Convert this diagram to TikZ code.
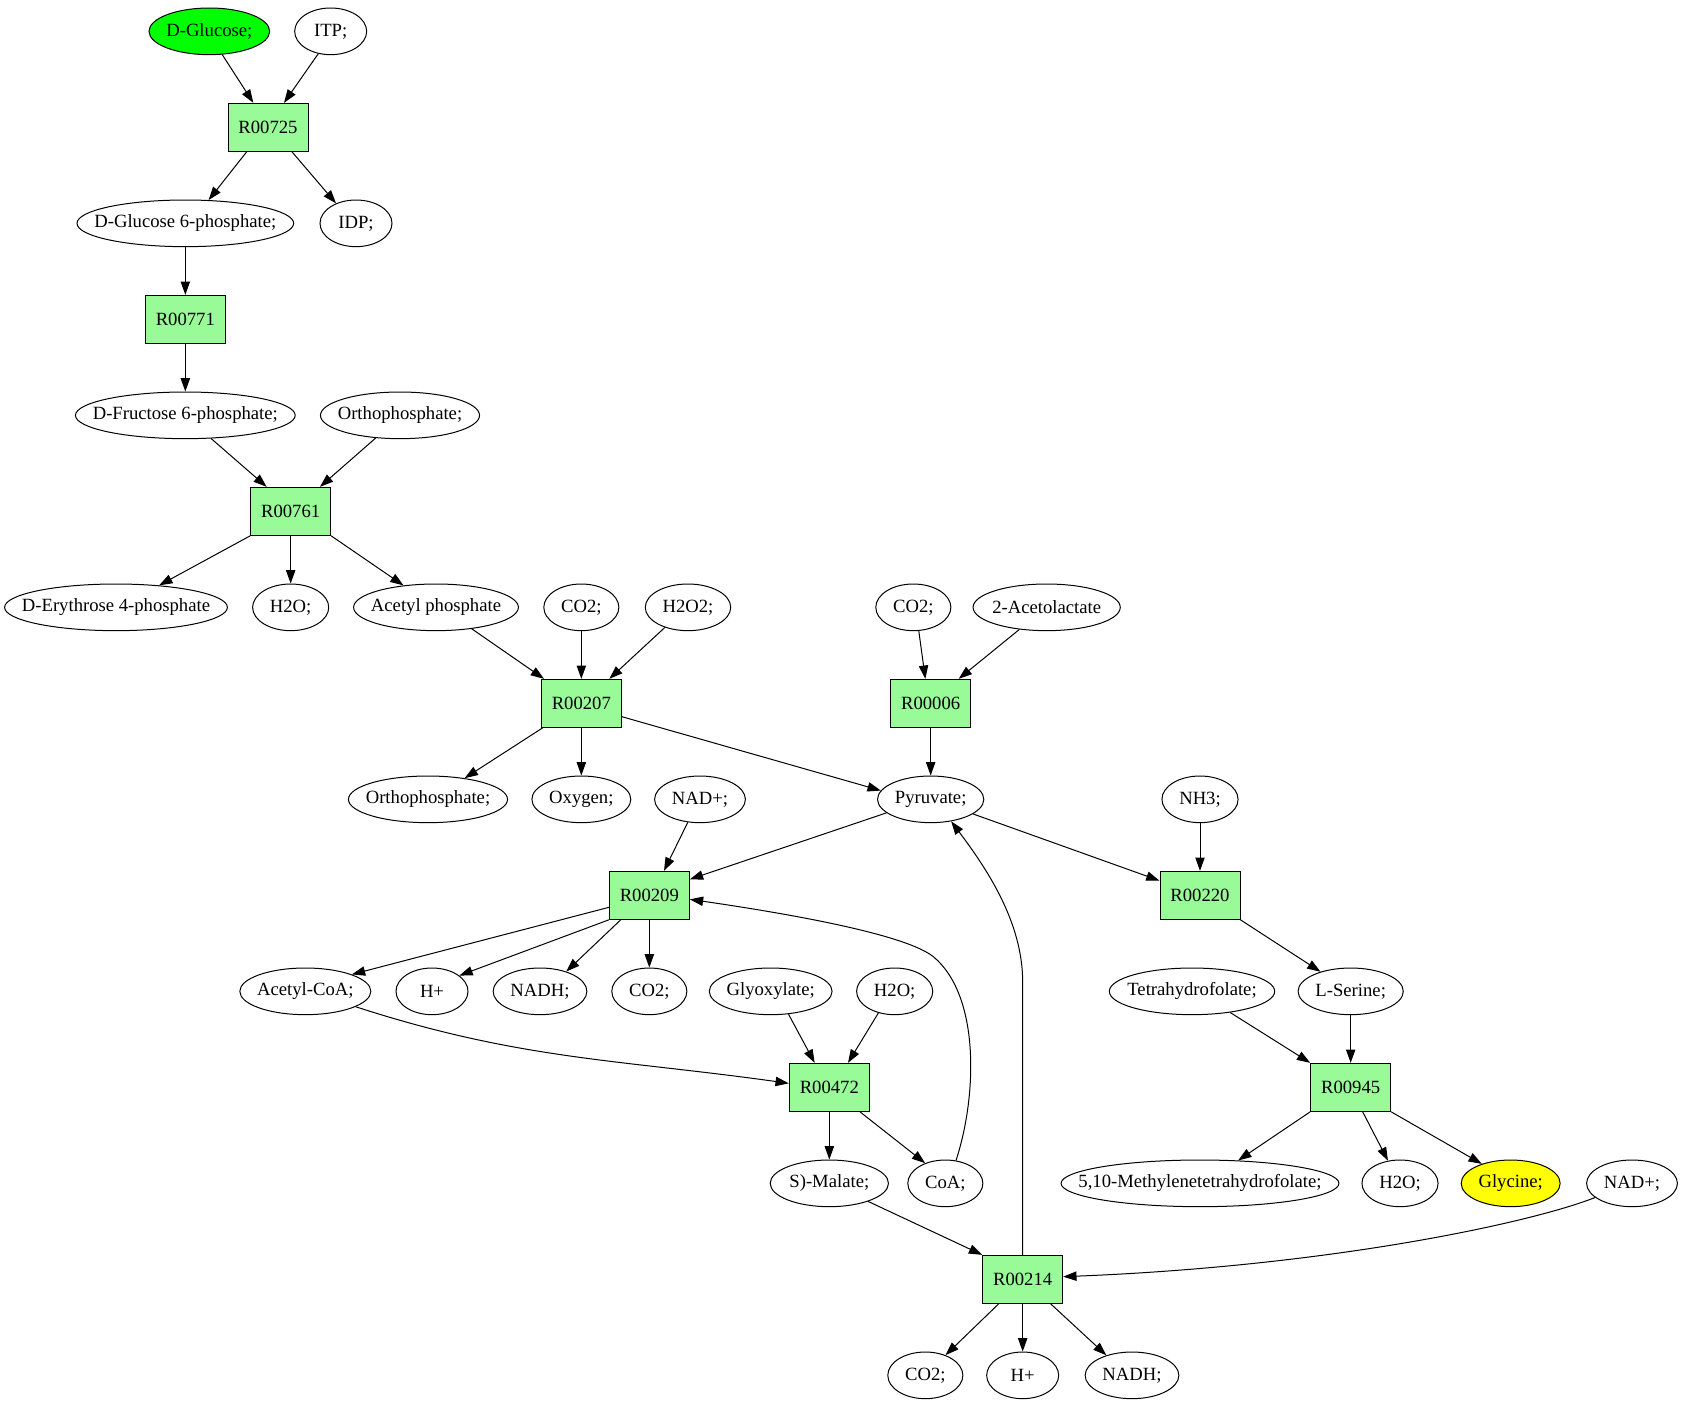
\documentclass[tikz,border=0pt]{standalone}
\usepackage{fontspec}
\setmainfont{Liberation Serif}
\usetikzlibrary{arrows.meta,shapes.geometric}
\definecolor{rxnfill}{HTML}{98FB98}
\definecolor{glcfill}{HTML}{00FF00}
\definecolor{glyfill}{HTML}{FFFF00}
\tikzset{
  met/.style={ellipse, draw=black, line width=0.75pt, inner sep=0pt, minimum height=35pt, font=\fontsize{14}{16}\selectfont},
  rxn/.style={rectangle, draw=black, line width=0.75pt, fill=rxnfill, minimum width=60pt, minimum height=36pt, inner sep=0pt, font=\fontsize{14}{16}\selectfont},
  edg/.style={line width=0.75pt, -{Triangle[length=10pt,width=7pt]}},
}
% \metab[fill]{name}{x}{y}{width}{text}
\newcommand\metab[6][white]{%
  \node[met, fill=#1, minimum width=#5pt] (#2) at (#3,#4) {\makebox[0pt]{#6}};}
\begin{document}
\begin{tikzpicture}[x=1pt,y=-1pt]
\useasboundingbox (0,-1.5) rectangle (1263,1050.5);
% nodes
\metab[glcfill]{dglc}{157}{22}{90.5}{D-Glucose;}
\metab{itp}{248}{22}{54}{ITP;}
\node[rxn] (r725) at (201,94) {R00725};
\metab{g6p}{139}{166}{162.5}{D-Glucose 6-phosphate;}
\metab{idp}{267}{166}{54}{IDP;}
\node[rxn] (r771) at (139,238) {R00771};
\metab{f6p}{139}{310}{164.8}{D-Fructose 6-phosphate;}
\metab{orth1}{300}{310}{119.3}{Orthophosphate;}
\node[rxn] (r761) at (218,382) {R00761};
\metab{e4p}{87}{454}{167.1}{D-Erythrose 4-phosphate}
\metab{h2oa}{218}{454}{57.1}{H2O;}
\metab{acp}{327}{454}{123.6}{Acetyl phosphate}
\metab{co2a}{436}{454}{56.3}{CO2;}
\metab{h2o2}{516}{454}{64.1}{H2O2;}
\metab{co2b}{685}{454}{56.3}{CO2;}
\metab{acl}{785}{454}{110.4}{2-Acetolactate}
\node[rxn] (r207) at (436,526) {R00207};
\node[rxn] (r006) at (698,526) {R00006};
\metab{orth2}{321}{598}{119.3}{Orthophosphate;}
\metab{oxy}{436}{598}{74.2}{Oxygen;}
\metab{nada}{525}{598}{68.1}{NAD+;}
\metab{pyr}{698}{598}{79.7}{Pyruvate;}
\metab{nh3}{900}{598}{57.1}{NH3;}
\node[rxn] (r209) at (487,670) {R00209};
\node[rxn] (r220) at (900,670) {R00220};
\metab{acoa}{229}{742}{98.3}{Acetyl-CoA;}
\metab{hpa}{324}{742}{54}{H+}
\metab{nadha}{405}{742}{70.3}{NADH;}
\metab{co2c}{487}{742}{56.3}{CO2;}
\metab{glyox}{578}{742}{92.1}{Glyoxylate;}
\metab{h2ob}{671}{742}{57.1}{H2O;}
\metab{thf}{894}{742}{124}{Tetrahydrofolate;}
\metab{ser}{1013}{742}{78.9}{L-Serine;}
\node[rxn] (r472) at (622,814) {R00472};
\node[rxn] (r945) at (1013,814) {R00945};
\metab{mal}{622}{886}{88.7}{S)-Malate;}
\metab{coa}{709}{886}{56.3}{CoA;}
\metab{mthf}{900}{886}{208.4}{5,10-Methylenetetrahydrofolate;}
\metab{h2oc}{1050}{886}{57.1}{H2O;}
\metab[glyfill]{gly}{1133}{886}{74.2}{Glycine;}
\metab{nadb}{1224}{886}{68.1}{NAD+;}
\node[rxn] (r214) at (767,958) {R00214};
\metab{co2d}{694}{1030}{56.3}{CO2;}
\metab{hpb}{767}{1030}{54}{H+}
\metab{nadhb}{849}{1030}{70.3}{NADH;}
% edges
\draw[edg] (dglc.-61) -- ([xshift=-11pt]r725.north);
\draw[edg] (itp.-119) -- ([xshift=12pt]r725.north);
\draw[edg] ([xshift=-16pt]r725.south) -- (g6p.45);
\draw[edg] ([xshift=18pt]r725.south) -- (idp.135);
\draw[edg] (g6p) -- (r771);
\draw[edg] (r771) -- (f6p);
\draw[edg] (f6p.-42) -- ([xshift=-18pt]r761.north);
\draw[edg] (orth1.-137) -- ([xshift=22pt]r761.north);
\draw[edg] (r761.south west) -- (e4p.27);
\draw[edg] (r761) -- (h2oa);
\draw[edg] (r761.south east) -- (acp.146);
\draw[edg] (acp.-31) -- ([xshift=-28pt]r207.north);
\draw[edg] (co2a) -- (r207);
\draw[edg] (h2o2.-139) -- ([xshift=21pt]r207.north);
\draw[edg] ([xshift=-29pt]r207.south) -- (orth2.30);
\draw[edg] (r207) -- (oxy);
\draw[edg] ([yshift=-10pt]r207.east) -- (pyr.170);
\draw[edg] (co2b.-77) -- ([xshift=-4pt]r006.north);
\draw[edg] (acl.-141) -- ([xshift=21pt]r006.north);
\draw[edg] (r006) -- (pyr);
\draw[edg] (nada.-118) -- ([xshift=11pt]r209.north);
\draw[edg] (pyr.-163) -- ([yshift=12pt]r209.east);
\draw[edg] (pyr.-19) -- ([yshift=11pt]r220.west);
\draw[edg] (nh3) -- (r220);
\draw[edg] ([yshift=-9pt]r209.west) -- (acoa.20);
\draw[edg] (r209.south west) -- (hpa.30);
\draw[edg] ([xshift=-21.5pt]r209.south) -- (nadha.37);
\draw[edg] (r209) -- (co2c);
\draw[edg] (r220.south east) -- (ser.147);
\draw[edg] (acoa.-17) to[out=-18,in=172] ([yshift=3pt]r472.west);
\draw[edg] (glyox.-52) -- ([xshift=-11pt]r472.north);
\draw[edg] (h2ob.-127) -- ([xshift=14pt]r472.north);
\draw[edg] (thf.-29) -- (r945.north west);
\draw[edg] (ser) -- (r945);
\draw[edg] (r472) -- (mal);
\draw[edg] ([xshift=23pt]r472.south) -- (coa.135);
\draw[edg] (coa.65) .. controls (733,820) and (735,745) .. (700,716) .. controls (680,700) and (600,685) .. ([yshift=-3pt]r209.east);
\draw[edg] (r945.south west) -- (mthf.31);
\draw[edg] ([xshift=9pt]r945.south) -- (h2oc.118);
\draw[edg] (r945.south east) -- (gly.146);
\draw[edg] (mal.-25) -- (r214.north west);
\draw[edg] (nadb.-159) .. controls (1150,915) and (1000,948) .. ([yshift=2pt]r214.east);
\draw[edg] (r214.north) -- (767,735) .. controls (767,690) and (740,650) .. (pyr.-47);
\draw[edg] ([xshift=-18pt]r214.south) -- (co2d.45);
\draw[edg] (r214) -- (hpb);
\draw[edg] ([xshift=21pt]r214.south) -- (nadhb.142);
\end{tikzpicture}
\end{document}
